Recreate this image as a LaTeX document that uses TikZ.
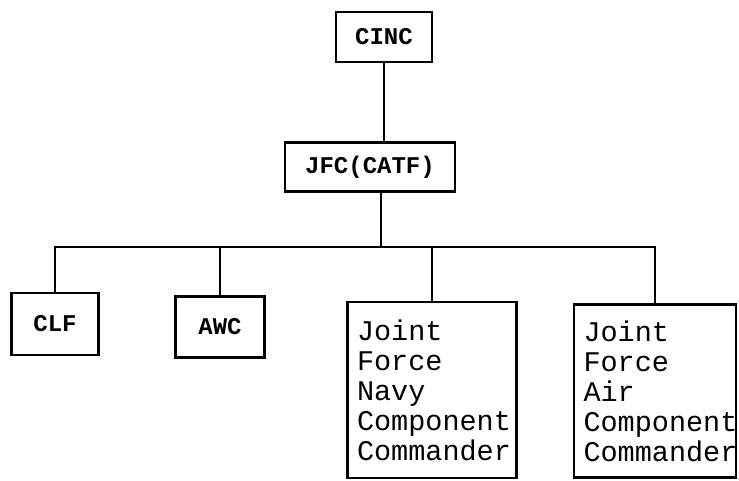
\documentclass[tikz,border=0pt]{standalone}
\usepackage{fontspec}
\setmonofont{Liberation Mono}
\usetikzlibrary{positioning}

\begin{document}
\begin{tikzpicture}[x=1pt, y=-1pt,
    unitbox/.style={draw, line width=2.8pt, font=\fontsize{24}{26}\selectfont\ttfamily\bfseries, inner sep=0pt},
    cmdbox/.style={draw, line width=2.8pt, font=\fontsize{28.5}{30}\selectfont\ttfamily,
        align=left, inner xsep=0pt, inner ysep=0pt, anchor=center},
    link/.style={line width=2.8pt}]

    % ==========================================
    % Frame (keeps the page the size of the scan)
    % ==========================================
    \useasboundingbox (0,0) rectangle (739,481);

    % ==========================================
    % TOP OF THE CHAIN
    % ==========================================
    \node[unitbox, minimum width=96pt, minimum height=50pt] (cinc) at (384,37) {CINC};
    \node[unitbox, minimum width=170pt, minimum height=49pt] (jfc) at (370,167) {JFC(CATF)};

    % ==========================================
    % SUBORDINATE COMMANDS
    % ==========================================
    \node[unitbox, minimum width=87pt, minimum height=62pt] (clf) at (55,324) {CLF};
    \node[unitbox, minimum width=89pt, minimum height=61pt] (awc) at (220,327) {AWC};

    \node[cmdbox, minimum width=169pt, minimum height=176pt, text width=150pt] (navy) at (432,390)
        {Joint\\Force\\Navy\\Component\\Commander};
    \node[cmdbox, minimum width=162pt, minimum height=173pt, text width=143pt] (air) at (655,391)
        {Joint\\Force\\Air\\Component\\Commander};

    % ==========================================
    % CONNECTORS
    % ==========================================
    \coordinate (bus) at (381,247);

    \draw[link] (cinc.south) -- (cinc.south |- jfc.north);
    \draw[link] (jfc.south -| bus) -- (bus);
    \draw[link] (clf.north) |- (bus) -| (air.north);
    \draw[link] (awc.north) -- (awc.north |- bus);
    \draw[link] (navy.north) -- (navy.north |- bus);

\end{tikzpicture}
\end{document}
